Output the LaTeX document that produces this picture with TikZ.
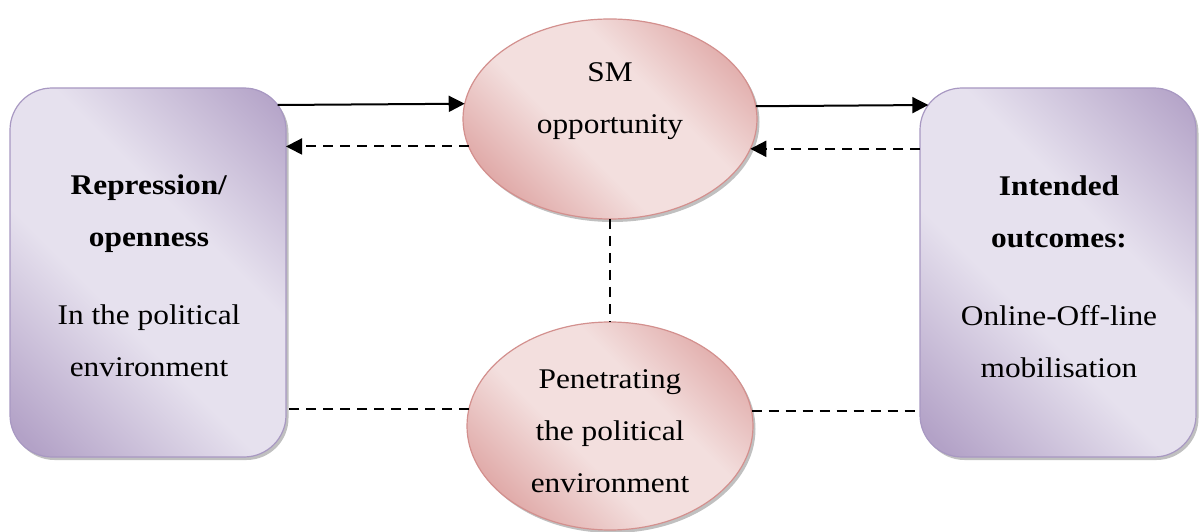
\documentclass[tikz,border=0pt]{standalone}
\usepackage{fontspec}
\setmainfont[FakeStretch=1.1]{Liberation Serif}
\usetikzlibrary{shadows,arrows.meta,calc,shapes.geometric}
\definecolor{pdark}{HTML}{B3A2C7}
\definecolor{plight}{HTML}{E6E1EE}
\definecolor{pborder}{HTML}{A898C2}
\definecolor{rdark}{HTML}{D99694}
\definecolor{rlight}{HTML}{F3DFDE}
\definecolor{rborder}{HTML}{D3908E}
\pgfdeclarehorizontalshading{purpsh}{100bp}{color(0bp)=(pdark); color(18bp)=(pdark); color(42bp)=(plight); color(60bp)=(plight); color(84bp)=(pdark); color(100bp)=(pdark)}
\pgfdeclarehorizontalshading{pinksh}{100bp}{color(0bp)=(rdark); color(18bp)=(rdark); color(42bp)=(rlight); color(60bp)=(rlight); color(84bp)=(rdark); color(100bp)=(rdark)}
\begin{document}
\begin{tikzpicture}[x=1pt,y=1pt,
  box/.style={draw=pborder, line width=1.2pt, rounded corners=42pt,
    shading=purpsh, shading angle=45, minimum width=276pt, minimum height=369pt,
    inner sep=0pt, outer sep=0pt,
    drop shadow={shadow xshift=2.5pt, shadow yshift=-3pt, fill=black!45, opacity=0.55}},
  oval/.style={ellipse, draw=rborder, line width=1.2pt, shading=pinksh, shading angle=45,
    inner sep=0pt, outer sep=0pt,
    drop shadow={shadow xshift=2.5pt, shadow yshift=-3pt, fill=black!45, opacity=0.55}},
  txt/.style={align=center, inner sep=0pt, font=\fontsize{28.5pt}{52pt}\selectfont},
  conn/.style={line width=2pt, black},
  dsh/.style={conn, dash pattern=on 10pt off 7pt},
  tip/.style={-{Triangle[length=16pt,width=16pt]}}
]
\useasboundingbox (0,0) rectangle (1200,531);
\node[box] (lbox) at (148,258.5) {};
\node[box] (rbox) at (1058,258.5) {};
\node[oval, minimum width=294pt, minimum height=200pt] (topE) at (610,412) {};
\node[oval, minimum width=286pt, minimum height=208pt] (botE) at (610,105) {};

\node[txt] (ltext) at (149,255.5) {\textbf{Repression/}\\\textbf{openness}\\[26pt]In the political\\environment};
\node[txt] (rtext) at (1059,254.5) {\textbf{Intended}\\\textbf{outcomes:}\\[26pt]Online-Off-line\\mobilisation};
\node[txt] (ttext) at (610,430) {SM\\opportunity};
\node[txt] (btext) at (610,100.2) {Penetrating\\the political\\environment};

\coordinate (lsrc) at ($(lbox.north east)+(-8.3,-17)$);
\coordinate (rdst) at ($(rbox.north west)+(8.3,-17)$);

\draw[conn,tip] (lsrc) -- (topE.174.5);
\draw[dsh,tip] (topE.191.65) -- (lbox.east |- topE.191.65);
\draw[conn,tip] (topE.5.5) -- (rdst);
\draw[dsh,tip] (rbox.west |- topE.348.35) -- (topE.348.35);
\draw[dsh] (topE.south) -- (botE.north);
\draw[dsh] (botE.173.95) -- (lbox.east |- botE.173.95);
\draw[dsh] (botE.6.05) -- (rbox.west |- botE.6.05);
\end{tikzpicture}
\end{document}
